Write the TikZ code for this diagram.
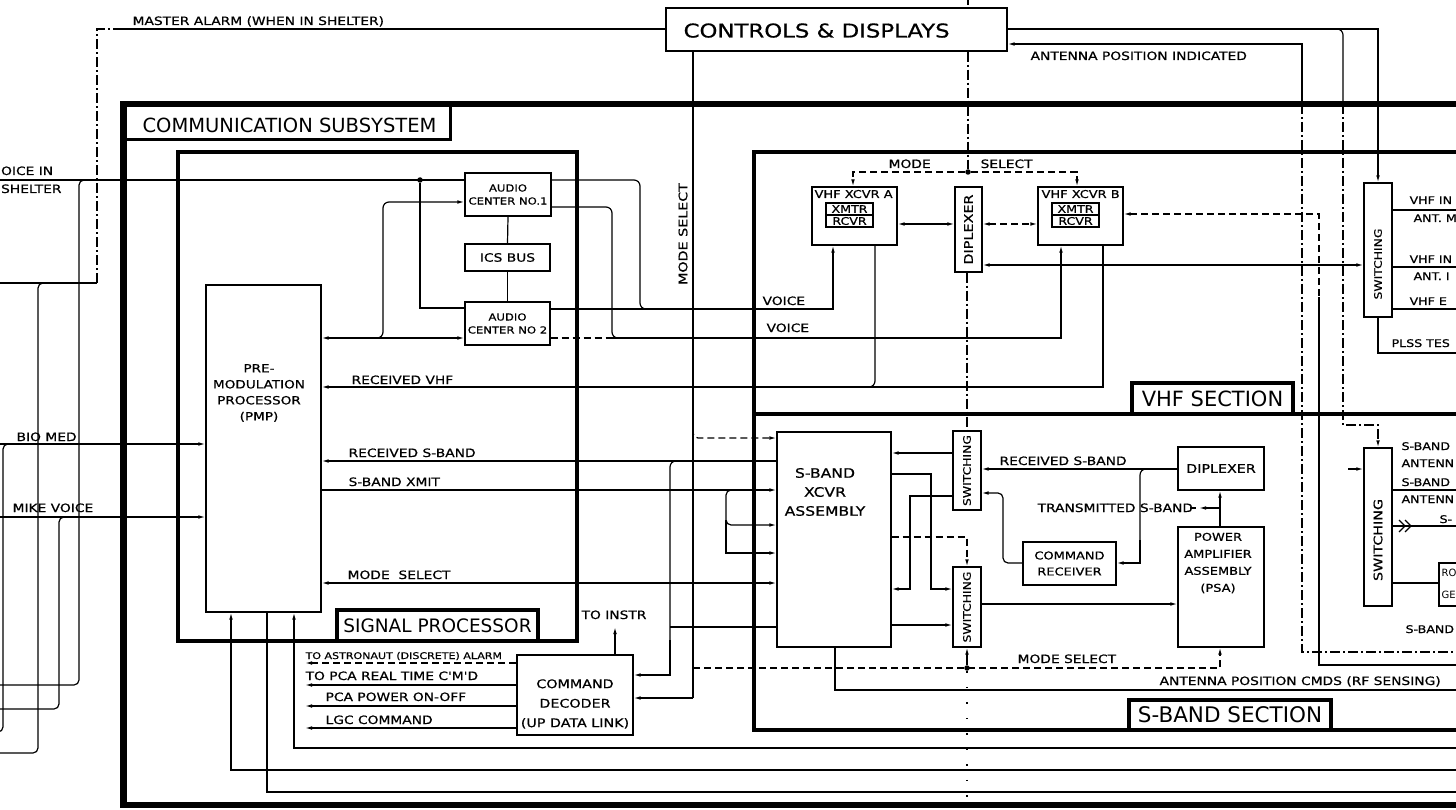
\documentclass[tikz,border=0pt]{standalone}
\usepackage{fontspec}
\usetikzlibrary{arrows.meta}
\newfontfamily\lf[FakeStretch=1.2,FakeBold=0.6]{DejaVu Sans}
\newfontfamily\tf{DejaVu Sans}
\tikzset{
  bx/.style={draw, line width=1.2pt, inner sep=0pt, align=center, font=\lf\fontsize{11.5}{16}\selectfont},
  lab/.style={inner sep=0pt, anchor=base west, font=\lf\fontsize{11.5}{12}\selectfont},
  small/.style={font=\lf\fontsize{9.2}{10}\selectfont},
  rsm/.style={font=\lf\fontsize{10.5}{12}\selectfont},
  dsh/.style={dash pattern=on 7pt off 4pt},
  dd/.style={dash pattern=on 10pt off 3pt on 2pt off 3pt},
  sparse/.style={dash pattern=on 1.5pt off 14pt},
  jdot/.style={circle, fill, inner sep=0pt, minimum size=5.5pt},
  vlab/.style={rotate=90, inner sep=0pt, font=\lf\fontsize{10.3}{11}\selectfont},
  secl/.style={draw, fill=white, line width=3.5pt, inner sep=0pt, font=\tf\fontsize{21}{22}\selectfont},
}
\begin{document}
\begin{tikzpicture}[x=1pt,y=-1pt,line width=1.2pt,>={Latex[length=7pt,width=3.6pt]}]
\useasboundingbox (0,0) rectangle (1456,810);
\fill[white] (0,0) rectangle (1456,810);
\clip (0,0) rectangle (1456,810);

% ---------- frames ----------
\draw[line width=6.5pt] (1470,104) -- (123.5,104) -- (123.5,805) -- (1470,805);
\draw[line width=3pt] (123.5,140) -- (450,140) -- (450,104);
\node[lab, font=\tf\fontsize{19.5}{21}\selectfont] (tcs) at (142,133) {COMMUNICATION SUBSYSTEM};
\draw[line width=4.5pt] (178,152) rectangle (577,641);
\draw[line width=4pt] (1470,152) -- (754,152) -- (754,730) -- (1470,730);
\draw[line width=4pt] (754,414) -- (1470,414);

% ---------- free ends ----------
\coordinate (eMA) at (-3,283);  \coordinate (eMA2) at (-3,753);
\coordinate (eVS) at (-3,180);  \coordinate (eVS2) at (-3,685);
\coordinate (eBM) at (-3,444);  \coordinate (eBM2) at (-3,732);
\coordinate (eMV) at (-3,517);  \coordinate (eMV2) at (-3,709);
\coordinate (eR210) at (1470,210); \coordinate (eR267) at (1470,267);
\coordinate (eR309) at (1470,309); \coordinate (eR353) at (1470,353);
\coordinate (eR490) at (1470,490); \coordinate (eR526) at (1470,526);
\coordinate (eR652) at (1470,652); \coordinate (eR665) at (1470,665);
\coordinate (eR690) at (1470,690); \coordinate (eR748) at (1470,748);
\coordinate (eR770) at (1470,770); \coordinate (eR792) at (1470,792);
\coordinate (eTI) at (615,627);

% ---------- boxes ----------
\node[bx, minimum width=115, minimum height=327] (pmp) at (263.5,448.5) {};
\node[lab, anchor=center, align=center, font=\lf\fontsize{11.3}{16}\selectfont] (tpmp) at (259,393) {PRE-\\MODULATION\\PROCESSOR\\(PMP)};
\node[bx, minimum width=86, minimum height=43, font=\lf\fontsize{9.7}{13}\selectfont] (aca) at (508,194.5) {AUDIO\\CENTER NO.1};
\node[bx, minimum width=85, minimum height=27] (icsb) at (507.5,257.5) {ICS BUS};
\node[bx, minimum width=85, minimum height=43, font=\lf\fontsize{9.7}{13}\selectfont] (acb) at (507.5,323.5) {AUDIO\\CENTER NO 2};
\node[bx, minimum width=341, minimum height=43] (ctrl) at (836.5,29.5) {};
\node[lab, font=\lf\fontsize{19}{20}\selectfont] (tctrl) at (683,37.5) {CONTROLS \& DISPLAYS};
\node[bx, minimum width=85, minimum height=58] (vxa) at (854.5,216) {};
\node[lab, font=\lf\fontsize{10.8}{12}\selectfont] (tvxa) at (814,198) {VHF XCVR A};
\node[bx, minimum width=47, minimum height=12, font=\lf\fontsize{10.5}{11}\selectfont] (xa) at (849.5,209) {XMTR};
\node[bx, minimum width=47, minimum height=12, font=\lf\fontsize{10.5}{11}\selectfont] (ra) at (849.5,221) {RCVR};
\node[bx, minimum width=85, minimum height=58] (vxb) at (1080.5,216) {};
\node[lab, font=\lf\fontsize{10.8}{12}\selectfont] (tvxb) at (1041,198) {VHF XCVR B};
\node[bx, minimum width=47, minimum height=12, font=\lf\fontsize{10.5}{11}\selectfont] (xb) at (1075.5,209) {XMTR};
\node[bx, minimum width=47, minimum height=12, font=\lf\fontsize{10.5}{11}\selectfont] (rb) at (1075.5,221) {RCVR};
\node[bx, minimum width=27, minimum height=85] (vdip) at (968.5,229.5) {};
\node[vlab, font=\lf\fontsize{12}{12}\selectfont] (tvdip) at (vdip.center) {DIPLEXER};
\node[bx, minimum width=28, minimum height=134] (vsw) at (1378,250) {};
\node[vlab] (tvsw) at (1378,264) {SWITCHING};
\node[bx, minimum width=114, minimum height=215] (sxc) at (834,539.5) {};
\node[lab, anchor=center, align=center, font=\lf\fontsize{13}{19}\selectfont] (tsxc) at (825,492) {S-BAND\\XCVR\\ASSEMBLY};
\node[bx, minimum width=28, minimum height=79] (swu) at (967,470.5) {};
\node[vlab] (tswu) at (swu.center) {SWITCHING};
\node[bx, minimum width=28, minimum height=80] (swl) at (967,607) {};
\node[vlab] (tswl) at (swl.center) {SWITCHING};
\node[bx, minimum width=86, minimum height=43, font=\lf\fontsize{11.9}{12}\selectfont] (sdip) at (1221,468.5) {DIPLEXER};
\node[bx, minimum width=93, minimum height=43, font=\lf\fontsize{10.8}{16}\selectfont] (crx) at (1069.5,563.5) {COMMAND\\RECEIVER};
\node[bx, minimum width=86, minimum height=120] (psa) at (1221,587) {};
\node[lab, anchor=center, align=center, font=\lf\fontsize{10.8}{17}\selectfont] (tpsa) at (1218,563) {POWER\\AMPLIFIER\\ASSEMBLY\\(PSA)};
\node[bx, minimum width=28, minimum height=158] (ssw) at (1378,527) {};
\node[vlab, font=\lf\fontsize{11.9}{12}\selectfont] (tssw) at (1378,540) {SWITCHING};
\node[bx, minimum width=36, minimum height=43] (rog) at (1457,584.5) {};
\node[lab, font=\tf\fontsize{10}{12}\selectfont] (tro) at (1441,576) {RO};
\node[lab, font=\tf\fontsize{10}{12}\selectfont] (tge) at (1441,598) {GE};
\node[bx, minimum width=116, minimum height=80] (dec) at (575,695) {};
\node[lab, anchor=center, align=center, font=\lf\fontsize{11.9}{19.5}\selectfont] (tdec) at (575,704) {COMMAND\\DECODER\\(UP DATA LINK)};

% section labels
\node[secl, font=\tf\fontsize{18.5}{20}\selectfont, minimum width=201, minimum height=31] (tsp) at (437.5,625.5) {SIGNAL PROCESSOR};
\node[secl, minimum width=161, minimum height=31] (tvhf) at (1212.5,398.5) {VHF SECTION};
\node[secl, font=\tf\fontsize{21.5}{22}\selectfont, minimum width=202, minimum height=30] (tsb) at (1230,715) {S-BAND SECTION};

% ---------- left bundle ----------
\draw (eMA) -- (97,283);
\draw[dd] (97,283) -- (97,29) -- (118,29);
\draw (118,29) -- (ctrl.west |- 0,29);
\draw[rounded corners=5] (46,283) -- (38,283) -- (38,753) -- (eMA2);
\node[jdot] (j1) at (420,180) {};
\draw (eVS) -- (aca.west |- 0,180);
\draw[rounded corners=5] (87,180) -- (79,180) -- (79,685) -- (eVS2);
\draw (j1) -- (420,308) -- (acb.west |- 0,308);
\draw[->] (eBM) -- (pmp.west |- 0,444);
\draw[rounded corners=5] (12,444) -- (3,444) -- (3,732) -- (eBM2);
\draw[->] (eMV) -- (pmp.west |- 0,517);
\draw[rounded corners=5] (67,517) -- (59,517) -- (59,709) -- (eMV2);

% ---------- audio ----------
\draw[<->] (pmp.east |- 0,338) -- (acb.west |- 0,338);
\draw[->, rounded corners=6] (372,338) -- (383,338) -- (383,202) -- (aca.west |- 0,202);
\draw (aca.south) -- (icsb.north);
\draw (icsb.south) -- (acb.north);
\draw[rounded corners=6] (aca.east |- 0,180) -- (640,180) -- (640,309) -- (652,309);
\draw[->] (acb.east |- 0,309) -- (833,309) -- (vxa.south -| 833,0);
\draw[rounded corners=6] (aca.east |- 0,207) -- (612,207) -- (612,338) -- (624,338);
\draw[dsh] (acb.east |- 0,338) -- (612,338);
\draw[->] (612,338) -- (1061,338) -- (vxb.south -| 1061,0);

% ---------- PMP right side ----------
\draw[<-] (pmp.east |- 0,387) -- (1103,387) -- (vxb.south -| 1103,0);
\draw[rounded corners=6] (vxa.south -| 875,0) -- (875,387) -- (863,387);
\draw[<-] (pmp.east |- 0,461) -- (sxc.west |- 0,461);
\draw[rounded corners=6] (682,461) -- (670,461) -- (670,640);
\draw[->] (670,640) -- (670,675) -- (dec.east |- 0,675);
\draw (670,627) -- (sxc.west |- 0,627);
\draw[->] (pmp.east |- 0,490) -- (sxc.west |- 0,490);
\draw[->, rounded corners=5] (735,490) -- (726,490) -- (726,525) -- (sxc.west |- 0,525);
\draw[->] (726,520) -- (726,553) -- (sxc.west |- 0,553);
\draw[<->] (pmp.east |- 0,583) -- (sxc.west |- 0,583);
\draw (ctrl.south -| 693,0) -- (693,698);
\draw[->] (693,698) -- (dec.east |- 0,698);
\draw[->, dsh, rounded corners=5] (693,428) -- (693,438) -- (sxc.west |- 0,438);
\draw[->] (dec.north -| 615,0) -- (eTI);
\draw[<-, dsh] (305,663) -- (dec.west |- 0,663);
\draw[<-] (305,685) -- (dec.west |- 0,685);
\draw[<-] (305,706) -- (dec.west |- 0,706);
\draw[<-] (305,728) -- (dec.west |- 0,728);
\draw[<-] (pmp.south -| 231,0) -- (231,770) -- (eR770);
\draw (pmp.south -| 267,0) -- (267,792) -- (eR792);
\draw[<-] (pmp.south -| 294,0) -- (294,748) -- (eR748);

% ---------- VHF section ----------
\draw[dd] (968,-5) -- (ctrl.north -| 968,0);
\node[jdot] (j2) at (968,172) {};
\draw[dd] (ctrl.south -| 968,0) -- (j2);
\draw[->, dsh] (j2) -- (853,172) -- (vxa.north -| 853,0);
\draw[->, dsh] (j2) -- (1077,172) -- (vxb.north -| 1077,0);
\draw[<->] (vxa.east |- 0,224) -- (vdip.west |- 0,224);
\draw[<->, dsh] (vdip.east |- 0,224) -- (vxb.west |- 0,224);
\draw[<->] (vdip.east |- 0,265) -- (vsw.west |- 0,265);
\draw[<-, dsh] (vxb.east |- 0,214) -- (1319,214) -- (1319,297);
\draw (1319,297) -- (1319,665) -- (eR665);
\draw[->] (ctrl.east |- 0,29) -- (1378,29) -- (vsw.north -| 1378,0);
\draw[rounded corners=6] (1333,29) -- (1343,29) -- (1343,104);
\draw[->, dd] (1343,104) -- (1343,425) -- (1378,425) -- (ssw.north -| 1378,0);
\draw[<-] (ctrl.east |- 0,44) -- (1302,44) -- (1302,104);
\draw[dd] (1302,104) -- (1302,652) -- (eR652);
\draw (vsw.east |- 0,210) -- (eR210);
\draw (vsw.east |- 0,267) -- (eR267);
\draw (vsw.east |- 0,309) -- (eR309);
\draw (vsw.south -| 1378,0) -- (1378,353) -- (eR353);

% ---------- S-band section ----------
\draw[dd] (vdip.south -| 967,0) -- (swu.north);
\draw[<-] (sxc.east |- 0,453) -- (swu.west |- 0,453);
\draw[->] (sxc.east |- 0,474) -- (931,474) -- (931,589) -- (swl.west |- 0,589);
\draw[<-] (sxc.east |- 0,589) -- (910,589) -- (910,496) -- (swu.west |- 0,496);
\draw[->, dsh] (sxc.east |- 0,537) -- (967,537) -- (swl.north);
\draw[->] (sxc.east |- 0,625) -- (swl.west |- 0,625);
\node[jdot] (j3) at (967,668) {};
\draw[->] (j3) -- (swl.south);
\draw[sparse] (j3) -- (967,800);
\draw[->, dsh] (693,668) -- (1220,668) -- (psa.south -| 1220,0);
\draw[<-] (swu.east |- 0,469) -- (sdip.west |- 0,469);
\draw[rounded corners=6] (1150,469) -- (1140,469) -- (1140,540);
\draw[->] (1140,540) -- (1140,563) -- (crx.east |- 0,563);
\draw[<-, rounded corners=5] (swu.east |- 0,493) -- (1003,493) -- (1003,563) -- (crx.west |- 0,563);
\draw[->] (psa.north -| 1220,0) -- (sdip.south -| 1220,0);
\draw[->] (1219,508) -- (1199,508);
\draw (1190,508) -- (1196,508);
\draw[->] (swl.east |- 0,604) -- (psa.west |- 0,604);
\draw (sxc.south -| 835,0) -- (835,690) -- (eR690);
\draw[<-] (ssw.west |- 0,469) -- (1348,469);
\draw (ssw.east |- 0,490) -- (eR490);
\draw (ssw.east |- 0,526) -- (eR526);
\draw (1399,520) -- (1405,526) -- (1399,532);
\draw (1405,520) -- (1411,526) -- (1405,532);
\draw (ssw.east |- 0,583) -- (rog.west |- 0,583);

% ---------- labels ----------
\node[lab] (lma) at (132,25) {MASTER ALARM (WHEN IN SHELTER)};
\node[lab] (lapi) at (1030,60) {ANTENNA POSITION INDICATED};
\node[lab] (lvs1) at (0.5,175) {OICE IN};
\node[lab] (lvs2) at (0.5,193) {SHELTER};
\node[lab] (lbm) at (16,441) {BIO MED};
\node[lab] (lmv) at (12,512) {MIKE VOICE};
\node[vlab, font=\lf\fontsize{11.9}{12}\selectfont] (lms) at (683,234) {MODE SELECT};
\node[lab] (lrv) at (351,384) {RECEIVED VHF};
\node[lab] (lrs) at (348,457) {RECEIVED S-BAND};
\node[lab] (lsx) at (348,486) {S-BAND XMIT};
\node[lab] (lmsp) at (347,579) {MODE~~SELECT};
\node[lab, anchor=base] (lti) at (614,619) {TO INSTR};
\node[lab, small] (lta) at (305,659) {TO ASTRONAUT (DISCRETE) ALARM};
\node[lab] (ltp) at (305,680) {TO PCA REAL TIME C'M'D};
\node[lab] (lpp) at (325,701) {PCA POWER ON-OFF};
\node[lab] (llgc) at (325,724) {LGC COMMAND};
\node[lab] (lv1) at (762,305) {VOICE};
\node[lab] (lv2) at (766,332) {VOICE};
\node[lab] (lmo) at (888,168) {MODE};
\node[lab] (lse) at (980,168) {SELECT};
\node[lab] (lrs2) at (999,465) {RECEIVED S-BAND};
\node[lab] (lts) at (1037,512) {TRANSMITTED S-BAND};
\node[lab] (lms2) at (1017,663) {MODE SELECT};
\node[lab] (lapc) at (1159,685) {ANTENNA POSITION CMDS (RF SENSING)};
\node[lab, rsm] (r1) at (1409,204) {VHF IN};
\node[lab, rsm] (r2) at (1413,222) {ANT. M};
\node[lab, rsm] (r3) at (1409,263) {VHF IN};
\node[lab, rsm] (r4) at (1413,280) {ANT. I};
\node[lab, rsm] (r5) at (1409,305) {VHF E};
\node[lab, rsm] (r6) at (1391,347) {PLSS TES};
\node[lab, rsm] (r7) at (1401,450) {S-BAND};
\node[lab, rsm] (r8) at (1401,467) {ANTENN};
\node[lab, rsm] (r9) at (1401,486) {S-BAND};
\node[lab, rsm] (r10) at (1401,503) {ANTENN};
\node[lab, rsm] (r11) at (1439,523) {S-};
\node[lab, rsm] (r12) at (1405,633) {S-BAND};
\end{tikzpicture}
\end{document}
